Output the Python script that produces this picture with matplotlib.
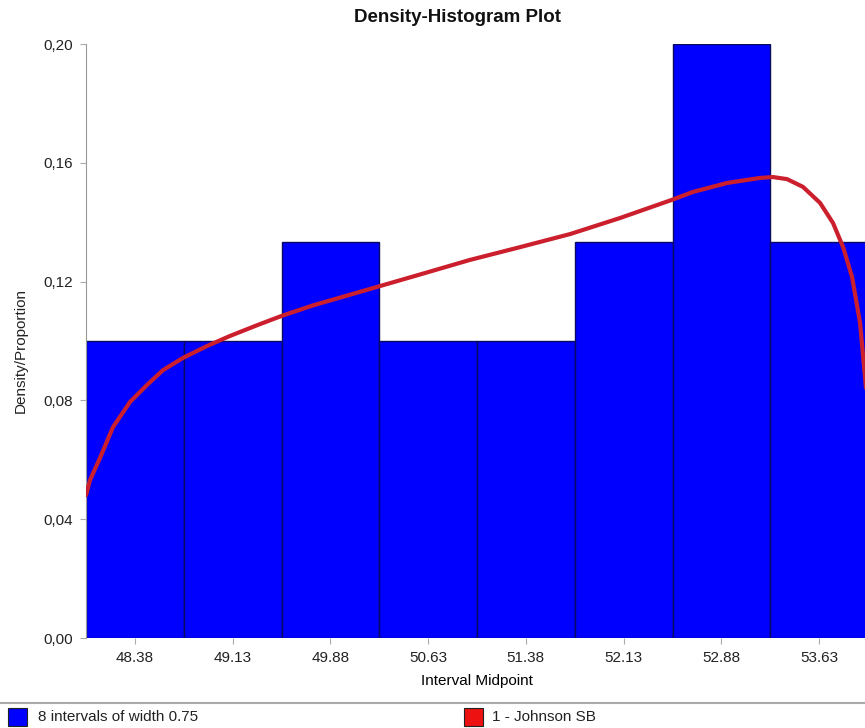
import matplotlib.pyplot as plt
from matplotlib.patches import Rectangle
from matplotlib.lines import Line2D
from matplotlib.ticker import FuncFormatter

# histogram: 8 intervals of width 0.75
midpoints = [48.38, 49.13, 49.88, 50.63, 51.38, 52.13, 52.88, 53.63]
proportions = [0.1000, 0.1000, 0.1333, 0.1000, 0.1000, 0.1333, 0.2000, 0.1333]
bin_width = 0.75
tick_labels = ["48.38", "49.13", "49.88", "50.63", "51.38", "52.13", "52.88", "53.63"]

# fitted Johnson SB curve
curve_x = [48.005, 48.036, 48.112, 48.212, 48.343, 48.473, 48.596, 48.749,
           48.933, 49.110, 49.317, 49.509, 49.747, 50.008, 50.261, 50.568,
           50.951, 51.335, 51.719, 52.102, 52.486, 52.663, 52.923, 53.176,
           53.276, 53.384, 53.506, 53.637, 53.737, 53.814, 53.883, 53.944,
           53.982, 54.000]
curve_y = [0.0481, 0.0532, 0.0606, 0.0710, 0.0795, 0.0852, 0.0902, 0.0943,
           0.0983, 0.1017, 0.1053, 0.1085, 0.1120, 0.1153, 0.1185, 0.1224,
           0.1273, 0.1316, 0.1360, 0.1414, 0.1473, 0.1502, 0.1532, 0.1549,
           0.1552, 0.1545, 0.1519, 0.1465, 0.1397, 0.1316, 0.1215, 0.1061,
           0.0879, 0.0790]

plt.rcParams.update({
    "font.family": ["Liberation Sans", "DejaVu Sans"],
    "text.color": "#222222",
})

fig = plt.figure(figsize=(8.65, 7.28), dpi=100, facecolor="white")
W, H = 865, 728
ax = fig.add_axes([86 / W, (H - 638) / H, 782 / W, 594 / H])

left_edges = [m - bin_width / 2 for m in midpoints]
ax.bar(left_edges, proportions, width=bin_width, align="edge",
       color="#0000ff", edgecolor="#0a0a60", linewidth=1.0, zorder=2)
ax.plot(curve_x, curve_y, color="#cc1f2e", linewidth=3.0, zorder=3,
        solid_capstyle="round", solid_joinstyle="round")

ax.set_xlim(48.005, 54.005)
ax.set_ylim(0, 0.20)
ax.set_xticks(midpoints)
ax.set_xticklabels(tick_labels)
ax.set_yticks([0, 0.04, 0.08, 0.12, 0.16, 0.20])
ax.yaxis.set_major_formatter(FuncFormatter(lambda v, p: f"{v:.2f}".replace(".", ",")))

for s in ["top", "right"]:
    ax.spines[s].set_visible(False)
ax.spines["left"].set_color("#999999")
ax.spines["bottom"].set_visible(False)
ax.tick_params(axis="both", direction="out", length=4, width=0.8,
               color="#aaaaaa", labelsize=11, labelcolor="#222222")
ax.tick_params(axis="x", pad=5)
ax.tick_params(axis="y", pad=5)

ax.set_xlabel("Interval Midpoint", fontsize=11, labelpad=7)
fig.text(21 / W, 1 - 350 / H, "Density/Proportion", rotation=90,
         ha="center", va="center", fontsize=11)

fig.text(458 / W, 1 - 18 / H, "Density-Histogram Plot", ha="center", va="center",
         fontsize=13.5, fontweight="bold", color="#111111")

# legend strip
fig.add_artist(Line2D([0, 1], [1 - 703 / H, 1 - 703 / H], transform=fig.transFigure,
                      color="#aaaaaa", linewidth=1.5))
fig.add_artist(Rectangle((8 / W, 1 - 726 / H), 19 / W, 18 / H, transform=fig.transFigure,
                         facecolor="#0000ff", edgecolor="#222222", linewidth=0.8))
fig.text(38 / W, 1 - 717 / H, "8 intervals of width 0.75", ha="left", va="center", fontsize=11)
fig.add_artist(Rectangle((464 / W, 1 - 726 / H), 19 / W, 18 / H, transform=fig.transFigure,
                         facecolor="#ee1111", edgecolor="#222222", linewidth=0.8))
fig.text(492 / W, 1 - 717 / H, "1 - Johnson SB", ha="left", va="center", fontsize=11)

fig.savefig("out.png", dpi=100, facecolor="white")
